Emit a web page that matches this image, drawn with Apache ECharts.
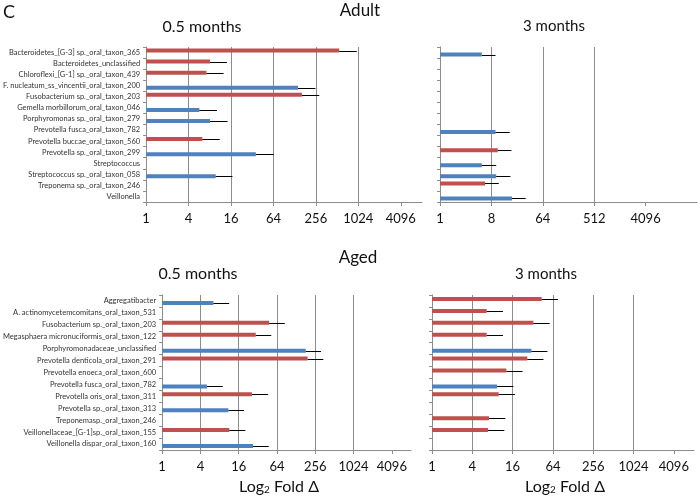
<!DOCTYPE html>
<html><head><meta charset="utf-8">
<script src="https://cdn.jsdelivr.net/npm/echarts@6/dist/echarts.min.js"></script>
<style>html,body{margin:0;padding:0;background:#fff}#c{width:700px;height:501px}</style>
</head><body><div id="c"></div>
<script>
// ---- categories ----
const adultCategories = [
  'Bacteroidetes_[G-3] sp._oral_taxon_365',
  'Bacteroidetes_unclassified',
  'Chloroflexi_[G-1] sp._oral_taxon_439',
  'F. nucleatum_ss_vincentii_oral_taxon_200',
  'Fusobacterium sp._oral_taxon_203',
  'Gemella morbillorum_oral_taxon_046',
  'Porphyromonas sp._oral_taxon_279',
  'Prevotella fusca_oral_taxon_782',
  'Prevotella buccae_oral_taxon_560',
  'Prevotella sp._oral_taxon_299',
  'Streptococcus',
  'Streptococcus sp._oral_taxon_058',
  'Treponema sp._oral_taxon_246',
  'Veillonella'
];
const agedCategories = [
  'Aggregatibacter',
  'A. actinomycetemcomitans_oral_taxon_531',
  'Fusobacterium sp._oral_taxon_203',
  'Megasphaera micronuciformis_oral_taxon_122',
  'Porphyromonadaceae_unclassified',
  'Prevotella denticola_oral_taxon_291',
  'Prevotella enoeca_oral_taxon_600',
  'Prevotella fusca_oral_taxon_782',
  'Prevotella oris_oral_taxon_311',
  'Prevotella sp._oral_taxon_313',
  'Treponemasp._oral_taxon_246',
  'Veillonellaceae_[G-1]sp._oral_taxon_155',
  'Veillonella dispar_oral_taxon_160'
];

// ---- values: log2 fold change (bar end) and error bar end, null = none ----
const adultHalfRed      = [9.10, 3.01, 2.84, null, 7.34, null, null, null, 2.65, null, null, null, null, null];
const adultHalfRedErr   = [9.93, 3.81, 3.65, null, 8.16, null, null, null, 3.47, null, null, null, null, null];
const adultHalfBlue     = [null, null, null, 7.16, null, 2.51, 3.01, null, null, 5.17, null, 3.28, null, null];
const adultHalfBlueErr  = [null, null, null, 7.98, null, 3.34, 3.84, null, null, 6.01, null, 4.07, null, null];

const adult3Red         = [null, null, null, null, null, null, null, null, null, 3.37, null, null, 2.63, null];
const adult3RedErr      = [null, null, null, null, null, null, null, null, null, 4.17, null, null, 3.43, null];
const adult3Blue        = [2.44, null, null, null, null, null, null, 3.24, null, null, 2.44, 3.28, null, 4.20];
const adult3BlueErr     = [3.24, null, null, null, null, null, null, 4.07, null, null, 3.28, 4.11, null, 5.00];

const agedHalfRed       = [null, null, 5.59, 4.89, null, 7.60, null, null, 4.69, null, null, 3.51, null];
const agedHalfRedErr    = [null, null, 6.41, 5.70, null, 8.42, null, null, 5.54, null, null, 4.35, null];
const agedHalfBlue      = [2.68, null, null, null, 7.50, null, null, 2.34, null, 3.46, null, null, 4.75];
const agedHalfBlueErr   = [3.50, null, null, null, 8.30, null, null, 3.17, null, 4.28, null, null, 5.57];

const aged3Red          = [5.44, 2.71, 5.03, 2.71, null, 4.73, 3.69, null, 3.31, null, 2.83, 2.78, null];
const aged3RedErr       = [6.25, 3.52, 5.84, 3.52, null, 5.53, 4.49, null, 4.12, null, 3.64, 3.59, null];
const aged3Blue         = [null, null, null, null, 4.93, null, null, 3.23, null, null, null, null, null];
const aged3BlueErr      = [null, null, null, null, 5.73, null, null, 4.04, null, null, null, null, null];

// ---- tick labels (fold change) ----
const halfTicks = [1, 4, 16, 64, 256, 1024, 4096];
const adult3Ticks = [1, 8, 64, 512, 4096];
const aged3Ticks = [1, 4, 16, 64, 256, 1024, 4096];

const RED = '#c0504d', BLUE = '#4f81bd', GRID = '#8c8c8c';
const FONT = 'Lato, "Open Sans", sans-serif';
const BAR_W = 4;

const panels = [
  {grid:{left:145, top:47, width:277, height:155}, cats:adultCategories, max:13, interval:2, ticks:halfTicks, labels:true,
   red:adultHalfRed, redErr:adultHalfRedErr, blue:adultHalfBlue, blueErr:adultHalfBlueErr},
  {grid:{left:440, top:47, width:271, height:155}, cats:adultCategories, max:15, interval:3, ticks:adult3Ticks, labels:false,
   red:adult3Red, redErr:adult3RedErr, blue:adult3Blue, blueErr:adult3BlueErr},
  {grid:{left:146, top:295, width:265, height:155}, cats:agedCategories, max:13, interval:2, ticks:halfTicks, labels:true,
   red:agedHalfRed, redErr:agedHalfRedErr, blue:agedHalfBlue, blueErr:agedHalfBlueErr},
  {grid:{left:432, top:295, width:262, height:155}, cats:agedCategories, max:13, interval:2, ticks:aged3Ticks, labels:false,
   red:aged3Red, redErr:aged3RedErr, blue:aged3Blue, blueErr:aged3BlueErr}
];

function renderErr(params, api) {
  const a = api.coord([api.value(0), api.value(2)]);
  const b = api.coord([api.value(1), api.value(2)]);
  const off = api.value(3) * BAR_W / 2;
  const y = Math.round(a[1] + off) + 0.5;
  return {type:'line', shape:{x1:a[0], y1:y, x2:b[0], y2:y},
          style:{stroke:'#000', lineWidth:1}, z2:10};
}

const grids = [], xAxes = [], yAxes = [], series = [];
panels.forEach((p, i) => {
  grids.push(Object.assign({containLabel:false}, p.grid));
  xAxes.push({
    type:'value', gridIndex:i, min:0, max:p.max, interval:p.interval,
    axisLine:{show:true, lineStyle:{color:GRID, width:1}},
    axisTick:{show:true, length:4, lineStyle:{color:GRID}, customValues: p.ticks.map(t => Math.log2(t))},
    splitLine:{show:true, showMinLine:false, showMaxLine:false, lineStyle:{color:GRID, width:1}},
    axisLabel:{fontFamily:FONT, fontSize:13, color:'#111', margin:10,
      formatter: v => (p.ticks.indexOf(Math.pow(2, v)) >= 0 ? String(Math.pow(2, v)) : '')}
  });
  yAxes.push({
    type:'category', gridIndex:i, data:p.cats, inverse:true,
    axisLine:{show:true, lineStyle:{color:GRID, width:1}},
    axisTick:{show:true, length:3, lineStyle:{color:GRID}},
    splitLine:{show:false},
    axisLabel:{show:p.labels, fontFamily:FONT, fontSize:7.5, color:'#333', margin:6}
  });
  series.push({type:'bar', xAxisIndex:i, yAxisIndex:i, data:p.red, barWidth:BAR_W, barGap:'0%',
               itemStyle:{color:RED}, silent:true, animation:false});
  series.push({type:'bar', xAxisIndex:i, yAxisIndex:i, data:p.blue, barWidth:BAR_W, barGap:'0%',
               itemStyle:{color:BLUE}, silent:true, animation:false});
  const errData = [];
  p.red.forEach((v, k) => { if (v != null) errData.push([v, p.redErr[k], k, -1]); });
  p.blue.forEach((v, k) => { if (v != null) errData.push([v, p.blueErr[k], k, 1]); });
  series.push({type:'custom', xAxisIndex:i, yAxisIndex:i, data:errData, renderItem:renderErr,
               encode:{x:[0,1], y:2}, z:5, silent:true, animation:false, clip:false});
});

function txt(x, y, text, size, extra) {
  return Object.assign({type:'text', x:x, y:y, style:{text:text, fontFamily:FONT, fontSize:size, fill:'#111',
          align:'center', verticalAlign:'middle'}}, extra || {});
}
const axisNameRich = {
  text:'{a|Log}{s|2}{a| Fold Δ}',
  rich:{a:{fontFamily:FONT, fontSize:16, fill:'#111', verticalAlign:'bottom', lineHeight:20},
        s:{fontFamily:FONT, fontSize:10, fill:'#111', verticalAlign:'bottom', lineHeight:14}}
};
const graphics = [
  {type:'text', x:3, y:3, style:{text:'C', fontFamily:FONT, fontSize:18, fill:'#111'}},
  txt(360, 11, 'Adult', 17),
  txt(202, 27, '0.5 months', 16),
  txt(554, 26, '3 months', 15),
  txt(358, 258, 'Aged', 17),
  txt(198, 274, '0.5 months', 16),
  txt(546, 274, '3 months', 15),
  {type:'text', x:279, y:485, style:Object.assign({align:'center', verticalAlign:'middle'}, axisNameRich)},
  {type:'text', x:565, y:485, style:Object.assign({align:'center', verticalAlign:'middle'}, axisNameRich)}
];

const chart = echarts.init(document.getElementById('c'), null, {renderer:'canvas'});
chart.setOption({
  animation:false,
  backgroundColor:'#fff',
  grid:grids, xAxis:xAxes, yAxis:yAxes, series:series,
  graphic:graphics
});
</script>
</body></html>
